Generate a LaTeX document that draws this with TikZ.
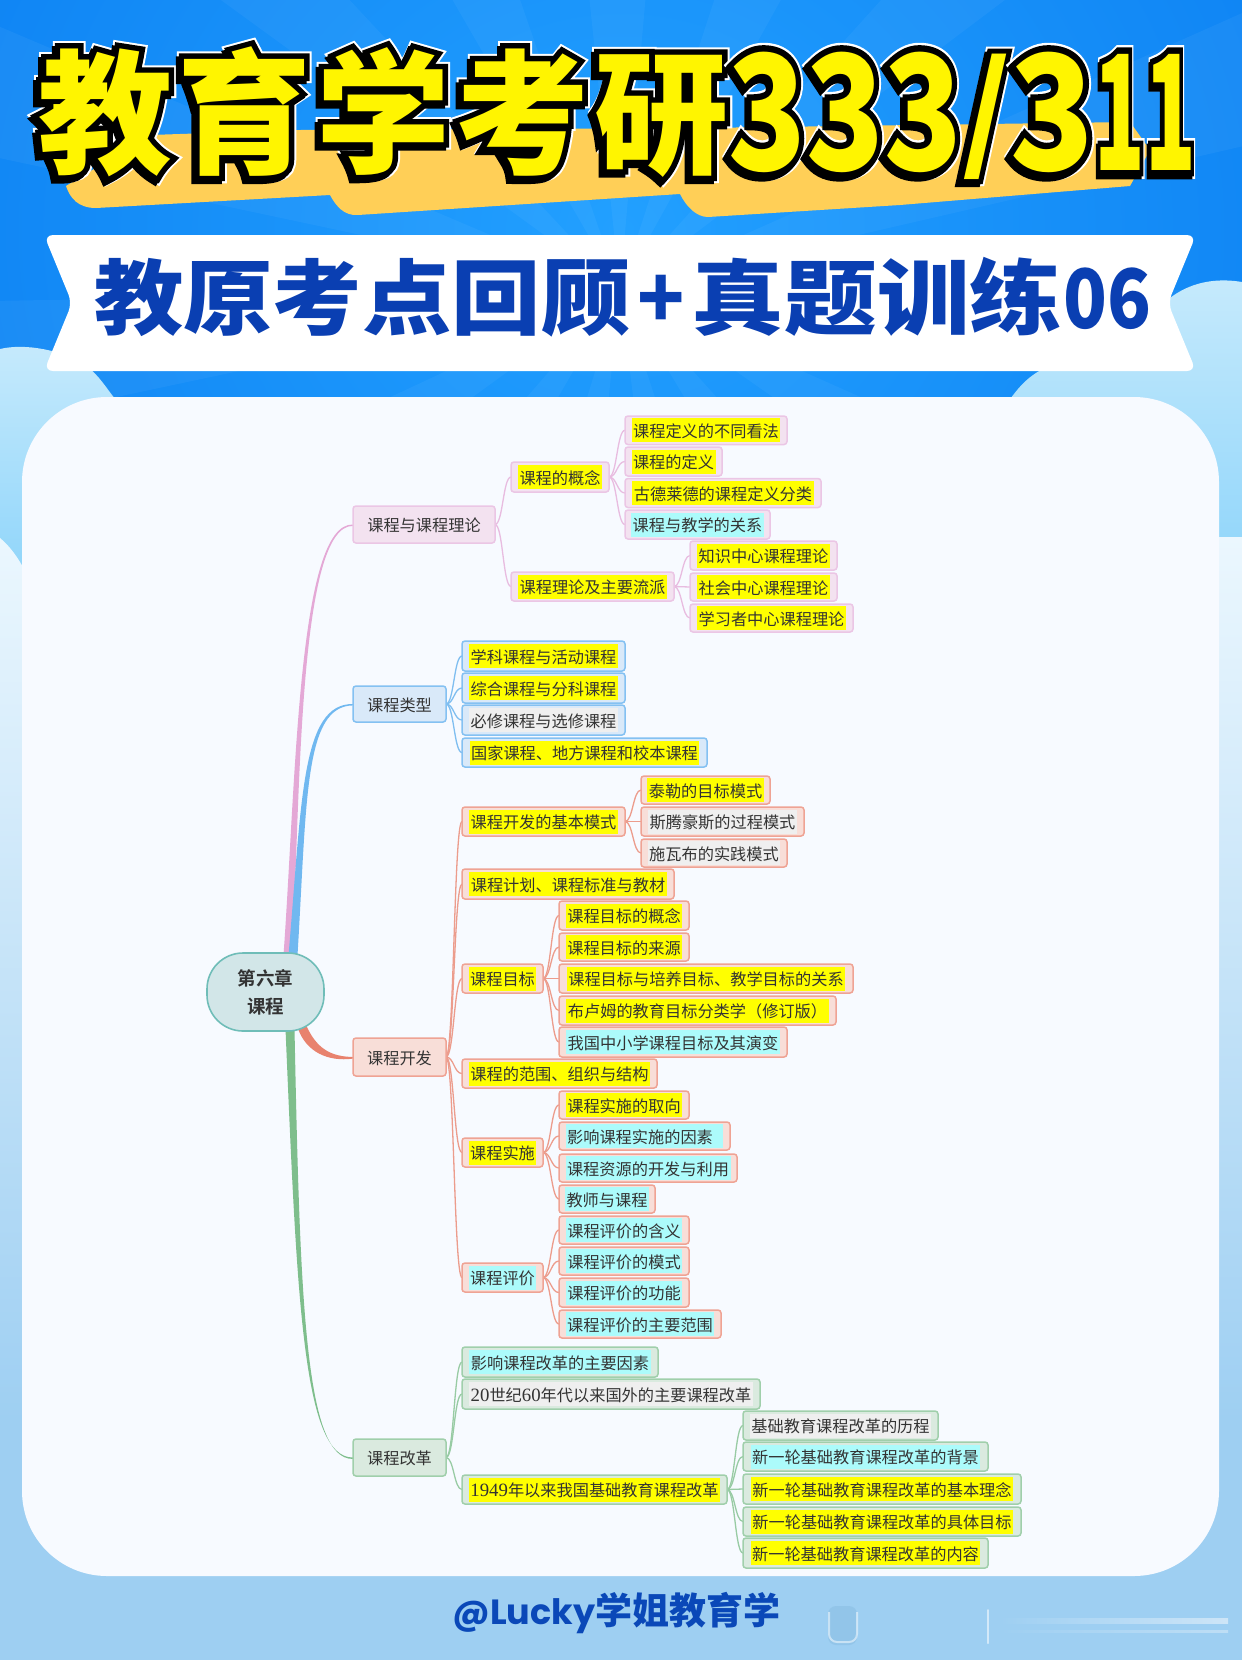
\documentclass[tikz,border=0pt]{standalone}
\usepackage{fontspec}
\usepackage{graphicx}
\usetikzlibrary{calc}
\setmainfont{Noto Sans CJK SC}
\newfontfamily\cjkheavy{Noto Sans CJK SC Black}
\newfontfamily\cjkblackout{Noto Sans CJK SC Black}[FakeBold=8]
\newfontfamily\cjkwhiteout{Noto Sans CJK SC Black}[FakeBold=11]
\newfontfamily\cjkmed{Noto Sans CJK SC Bold}
\newfontfamily\latinserif{Liberation Serif}
\newfontfamily\latinbold{Poppins}[UprightFont=* Bold]
\definecolor{hy}{HTML}{FFFF00}
\definecolor{hc}{HTML}{ACFBFB}
\definecolor{hg}{HTML}{EFEFEF}
\definecolor{inkc}{HTML}{333333}
\definecolor{ttlblue}{HTML}{0A3FB2}
\definecolor{footblue}{HTML}{0A48B8}
\definecolor{ttlyellow}{HTML}{FFF500}
\pgfdeclarelayer{bgl}\pgfdeclarelayer{conn}
\pgfsetlayers{bgl,conn,main}
\setlength{\fboxsep}{1.5pt}
\newcommand{\hlt}[2]{\colorbox{#1}{\rule[-3.5pt]{0pt}{21pt}#2}}
\newcommand{\mm}[8]{\node[box,#6,minimum width={(#4-#2)*1pt},minimum height={(#5-#3)*1pt}] (#1) at ({(#2+#4)/2},{(#3+#5)/2}) {\hlt{#7}{#8}};}
\newcommand{\tp}[8]{\node[box,#6,minimum width={(#4-#2)*1pt},minimum height={(#5-#3)*1pt}] (#1) at ({(#2+#4)/2},{(#3+#5)/2}) {\rule[-3.5pt]{0pt}{21pt}#8};}
\newcommand{\cn}[3]{\draw[#1] (#2.east) .. controls +(8,0) and +(-8,0) .. (#3.west);}
\newcommand{\dg}[1]{{\latinserif\fontsize{18.8pt}{20pt}\selectfont #1}}
\newcommand{\ttl}[1]{\rlap{\color{white}\cjkwhiteout #1}\rlap{\color{black}\cjkblackout\raisebox{-3pt}{\kern-3pt #1}}\rlap{\color{black}\cjkblackout #1}{\color{ttlyellow}\cjkheavy #1}}
\tikzset{
  box/.style={rectangle,rounded corners=3pt,inner sep=0pt,outer sep=0pt,line width=1.5pt,text=inkc,font=\fontsize{16.2pt}{20pt}\selectfont},
  pk/.style={fill=F3E2F0,draw=EBC6E5},
  bl/.style={fill=D9E9F9,draw=84C1F2},
  rd/.style={fill=F8DED8,draw=EFA394},
  gr/.style={fill=DAEADF,draw=A0CFAB},
  cpk/.style={draw=E8BCE0,line width=1.3pt},
  cbl/.style={draw=7FBEF0,line width=1.3pt},
  crd/.style={draw=EC9C8C,line width=1.3pt},
  cgr/.style={draw=98CBA4,line width=1.3pt},
}
\definecolor{F3E2F0}{HTML}{F3E2F0}\definecolor{EBC6E5}{HTML}{EBC6E5}
\definecolor{D9E9F9}{HTML}{D9E9F9}\definecolor{84C1F2}{HTML}{84C1F2}
\definecolor{F8DED8}{HTML}{F8DED8}\definecolor{EFA394}{HTML}{EFA394}
\definecolor{DAEADF}{HTML}{DAEADF}\definecolor{A0CFAB}{HTML}{A0CFAB}
\definecolor{E8BCE0}{HTML}{E8BCE0}\definecolor{7FBEF0}{HTML}{7FBEF0}
\definecolor{EC9C8C}{HTML}{EC9C8C}\definecolor{98CBA4}{HTML}{98CBA4}
\begin{document}
\begin{tikzpicture}[x=1pt,y=-1pt]
\useasboundingbox (0,0) rectangle (1242,1660);
\begin{pgfonlayer}{bgl}
  \clip (0,0) rectangle (1242,1660);
  % sky
  \shade[inner color={rgb,255:red,34;green,160;blue,255},outer color={rgb,255:red,12;green,128;blue,242}] (-200,-500) rectangle (1442,960);
  \foreach \a in {0,24,...,336}{
    \fill[white,opacity=0.045] (620,290) -- ++(\a:1600) -- ++({\a+90}:{1600*tan(11)}) -- cycle;
  }
  % clouds
  \shade[top color={rgb,255:red,198;green,234;blue,252},bottom color={rgb,255:red,138;green,211;blue,250}]
    (0,349) .. controls (25,343) and (62,350) .. (85,365) .. controls (100,376) and (106,388) .. (116,400) -- (116,600) -- (0,600) -- cycle;
  \shade[top color={rgb,255:red,198;green,234;blue,252},bottom color={rgb,255:red,138;green,211;blue,250}]
    (1008,402) .. controls (1020,385) and (1030,375) .. (1045,368) -- (1150,320) .. controls (1168,292) and (1200,275) .. (1242,282) -- (1242,600) -- (1008,600) -- cycle;
  \shade[top color={rgb,255:red,235;green,247;blue,254},middle color={rgb,255:red,205;green,232;blue,249},bottom color={rgb,255:red,158;green,207;blue,242}]
    (0,538) .. controls (10,546) and (22,562) .. (30,582) -- (30,1420) -- (0,1420) -- cycle;
  \shade[top color={rgb,255:red,235;green,247;blue,254},middle color={rgb,255:red,205;green,232;blue,249},bottom color={rgb,255:red,158;green,207;blue,242}]
    (1210,537) -- (1242,537) -- (1242,1420) -- (1210,1420) -- cycle;
  \fill[color={rgb,255:red,158;green,207;blue,242}] (0,1420) rectangle (1242,1660);
  % orange brush
  \fill[color={rgb,255:red,255;green,207;blue,87}]
    (66,186) .. controls (70,198) and (78,208) .. (96,208) -- (330,195) .. controls (336,206) and (344,216) .. (358,215)
    -- (680,194) .. controls (686,206) and (696,217) .. (708,217) -- (900,205) -- (1130,186)
    -- (1150,150) -- (1130,122) -- (700,128) -- (300,130) -- (150,135) -- cycle;
  % ribbon
  \fill[white,rounded corners=9pt] (44,235) -- (1196,235) -- (1168,303) -- (1196,371) -- (44,371) -- (72,303) -- cycle;
  % panel
  \fill[color={rgb,255:red,247;green,250;blue,255},rounded corners=85pt] (22,397) rectangle (1219,1576);
  % faint marks
  \fill[color={rgb,255:red,132;green,185;blue,224},opacity=.45,rounded corners=8pt] (828,1606) rectangle (857,1645);
  \draw[white,opacity=.5,line width=2pt,rounded corners=8pt] (829,1612) -- (829,1642) -- (857,1642) -- (857,1612);
  \draw[white,opacity=.55,line width=2pt,line cap=round] (988,1610) -- (988,1643);
  \shade[left color={rgb,255:red,158;green,207;blue,242},right color={rgb,255:red,205;green,229;blue,247}] (1000,1618) rectangle (1228,1623);
  \shade[left color={rgb,255:red,158;green,207;blue,242},right color={rgb,255:red,190;green,222;blue,245}] (1000,1630) rectangle (1228,1632);
\end{pgfonlayer}

% titles
\node[anchor=base west,inner sep=0pt,font=\fontsize{134pt}{134pt}\selectfont] (title) at (38,163)
  {\ttl{教}\kern5pt\ttl{育}\kern5pt\ttl{学}\kern5pt\ttl{考}\kern5pt\ttl{研}\raisebox{-7pt}{\fontsize{160pt}{160pt}\selectfont\scalebox{.80}[1]{\ttl{333}}\raisebox{14pt}{\fontsize{126pt}{126pt}\selectfont\ttl{/}}\scalebox{.86}[1]{\ttl{3}}\scalebox{.52}[1]{\ttl{11}}}};
\node[anchor=base west,inner sep=0pt,text=ttlblue,font=\cjkheavy\fontsize{82pt}{82pt}\selectfont] (subtitle) at (94,328)
  {\scalebox{1.09}[1]{教原考点回顾}\kern7pt\scalebox{.95}[1]{+}\kern7pt\scalebox{1.13}[1]{真题训练}\kern1pt\scalebox{.88}[1]{06}};
\node[anchor=base west,inner sep=0pt,text=footblue,font=\fontsize{37pt}{37pt}\selectfont] (footer) at (452,1624)
  {{\latinbold\fontsize{35pt}{35pt}\selectfont @Lucky}{\cjkheavy 学姐教育学}};

% root
\node[rectangle,rounded corners=36pt,fill={rgb,255:red,210;green,230;blue,232},draw={rgb,255:red,111;green,189;blue,184},line width=1.6pt,
  minimum width=117pt,minimum height=78pt,inner sep=0pt,align=center,text=inkc,font=\cjkmed\fontsize{18.5pt}{28pt}\selectfont] (root) at (265.5,992) {第六章\\课程};

% branch 1
\tp{a0}{353}{506}{495}{543}{pk}{}{课程与课程理论}
\mm{a1}{511}{462}{609}{492}{pk}{hy}{课程的概念}
\mm{a11}{625}{416}{787}{444.5}{pk}{hy}{课程定义的不同看法}
\mm{a12}{625}{447}{722}{476}{pk}{hy}{课程的定义}
\mm{a13}{625}{478.5}{821}{507.5}{pk}{hy}{古德莱德的课程定义分类}
\mm{a14}{625}{510}{770}{539}{pk}{hc}{课程与教学的关系}
\mm{a2}{511}{572}{674}{601}{pk}{hy}{课程理论及主要流派}
\mm{a21}{690}{541}{837}{570}{pk}{hy}{知识中心课程理论}
\mm{a22}{690}{573}{837}{601}{pk}{hy}{社会中心课程理论}
\mm{a23}{690}{604}{853}{632}{pk}{hy}{学习者中心课程理论}
% branch 2
\tp{b0}{353}{686}{446}{722}{bl}{}{课程类型}
\mm{b1}{462}{641}{625}{671}{bl}{hy}{学科课程与活动课程}
\mm{b2}{462}{673}{625}{703}{bl}{hy}{综合课程与分科课程}
\mm{b3}{462}{705}{625}{735}{bl}{hg}{必修课程与选修课程}
\mm{b4}{462}{738}{707}{767}{bl}{hy}{国家课程、地方课程和校本课程}
% branch 3
\tp{c0}{353}{1038}{446}{1076}{rd}{}{课程开发}
\mm{c1}{462}{807}{625}{836}{rd}{hy}{课程开发的基本模式}
\mm{c11}{641}{776}{770}{804}{rd}{hy}{泰勒的目标模式}
\mm{c12}{641}{807}{804}{836}{rd}{hg}{斯腾豪斯的过程模式}
\mm{c13}{641}{839}{787}{867}{rd}{hg}{施瓦布的实践模式}
\mm{c2}{462}{869}{674}{899}{rd}{hy}{课程计划、课程标准与教材}
\mm{c3}{462}{964}{543}{993}{rd}{hy}{课程目标}
\mm{c31}{559}{901}{689}{930}{rd}{hy}{课程目标的概念}
\mm{c32}{559}{933}{689}{961}{rd}{hy}{课程目标的来源}
\mm{c33}{559}{964}{853}{993}{rd}{hy}{课程目标与培养目标、教学目标的关系}
\mm{c34}{559}{996}{836}{1025}{rd}{hy}{布卢姆的教育目标分类学（修订版）}
\mm{c35}{559}{1027}{787}{1057}{rd}{hc}{我国中小学课程目标及其演变}
\mm{c4}{462}{1059}{657}{1088}{rd}{hy}{课程的范围、组织与结构}
\mm{c5}{462}{1138}{543}{1167}{rd}{hy}{课程实施}
\mm{c51}{559}{1091}{689}{1119}{rd}{hy}{课程实施的取向}
\mm{c52}{559}{1122}{730}{1150}{rd}{hc}{影响课程实施的因素\kern9pt}
\mm{c53}{559}{1154}{737}{1182}{rd}{hc}{课程资源的开发与利用}
\mm{c54}{559}{1185}{655}{1213}{rd}{hc}{教师与课程}
\mm{c6}{462}{1263}{543}{1292}{rd}{hc}{课程评价}
\mm{c61}{559}{1216}{689}{1244}{rd}{hc}{课程评价的含义}
\mm{c62}{559}{1247}{689}{1275}{rd}{hc}{课程评价的模式}
\mm{c63}{559}{1278}{689}{1307}{rd}{hc}{课程评价的功能}
\mm{c64}{559}{1310}{721}{1338}{rd}{hc}{课程评价的主要范围}
% branch 4
\tp{d0}{353}{1439}{446}{1476}{gr}{}{课程改革}
\mm{d1}{462}{1347}{658}{1377}{gr}{hc}{影响课程改革的主要因素}
\mm{d2}{462}{1379}{760}{1409}{gr}{hg}{\dg{20}世纪\dg{60}年代以来国外的主要课程改革}
\mm{d3}{462}{1475}{727}{1504}{gr}{hy}{\dg{1949}年以来我国基础教育课程改革}
\mm{d31}{743}{1411}{938}{1440}{gr}{hg}{基础教育课程改革的历程}
\mm{d32}{743}{1442}{988}{1471}{gr}{hc}{新一轮基础教育课程改革的背景}
\mm{d33}{743}{1474}{1021}{1504}{gr}{hy}{新一轮基础教育课程改革的基本理念}
\mm{d34}{743}{1507}{1021}{1536}{gr}{hy}{新一轮基础教育课程改革的具体目标}
\mm{d35}{743}{1538}{988}{1568}{gr}{hy}{新一轮基础教育课程改革的内容}

\begin{pgfonlayer}{conn}
  % tapered trunks
  \fill[color={rgb,255:red,228;green,168;blue,214}] ($(root.north)+(18,3)$) .. controls (296,780) and (298,522.5) .. (a0.west) -- ($(a0.west)+(0,1.4)$) .. controls (300,525) and (300,780) .. ($(root.north)+(27,3)$) -- cycle;
  \fill[color={rgb,255:red,112;green,184;blue,240}] ($(root.north)+(23,3)$) .. controls (302,800) and (301,703.5) .. (b0.west) -- ($(b0.west)+(0,1.4)$) .. controls (304,706) and (307,800) .. ($(root.north)+(32,3)$) -- cycle;
  \fill[color={rgb,255:red,232;green,130;blue,110}] ($(root.east)+(-20,30)$) .. controls (316,1050) and (332,1056.5) .. (c0.west) -- ($(c0.west)+(0,1.6)$) .. controls (328,1062) and (306,1052) .. ($(root.east)+(-27,36)$) -- cycle;
  \fill[color={rgb,255:red,126;green,190;blue,140}] ($(root.south)+(20,-3)$) .. controls (297,1300) and (303,1458) .. (d0.west) -- ($(d0.west)+(0,1.4)$) .. controls (305,1460) and (300,1300) .. ($(root.south)+(29,-3)$) -- cycle;
  % thin connectors
  \foreach \p/\q in {a0/a1,a0/a2,a1/a11,a1/a12,a1/a13,a1/a14,a2/a21,a2/a22,a2/a23}{\cn{cpk}{\p}{\q}}
  \foreach \p/\q in {b0/b1,b0/b2,b0/b3,b0/b4}{\cn{cbl}{\p}{\q}}
  \foreach \p/\q in {c0/c1,c0/c2,c0/c3,c0/c4,c0/c5,c0/c6,c1/c11,c1/c12,c1/c13,c3/c31,c3/c32,c3/c33,c3/c34,c3/c35,c5/c51,c5/c52,c5/c53,c5/c54,c6/c61,c6/c62,c6/c63,c6/c64}{\cn{crd}{\p}{\q}}
  \foreach \p/\q in {d0/d1,d0/d2,d0/d3,d3/d31,d3/d32,d3/d33,d3/d34,d3/d35}{\cn{cgr}{\p}{\q}}
\end{pgfonlayer}
\end{tikzpicture}
\end{document}
